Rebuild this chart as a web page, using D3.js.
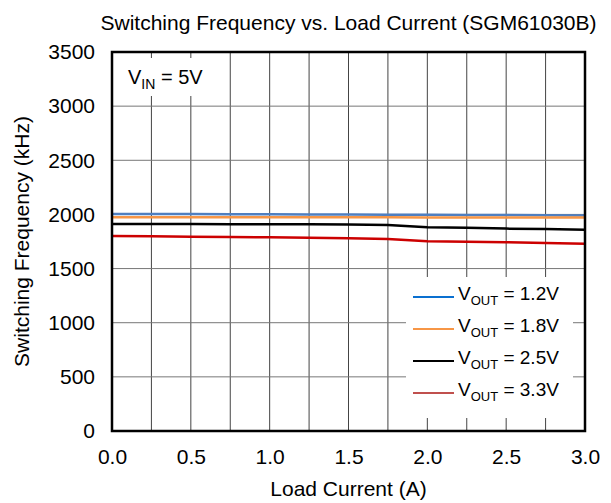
<!DOCTYPE html>
<html>
<head>
<meta charset="utf-8">
<script src="https://cdn.jsdelivr.net/npm/d3@7"></script>
<style>
  body { margin: 0; background: #fff; }
  text { font-family: "Liberation Sans", Arial, sans-serif; fill: #000; }
</style>
</head>
<body>
<div id="plotarea"></div>
<script>
// chart data
var loadCurrent = [0, 0.25, 0.5, 0.75, 1.0, 1.25, 1.5, 1.75, 2.0, 2.25, 2.5, 2.75, 3.0];
var vout12 = [2005, 2004, 2003, 2002, 2001, 2000, 1999, 1998, 1997, 1995, 1994, 1993, 1991];
var vout18 = [1974, 1974, 1974, 1973, 1973, 1973, 1973, 1973, 1972, 1972, 1972, 1972, 1972];
var vout25 = [1912, 1911, 1911, 1910, 1910, 1909, 1908, 1903, 1882, 1876, 1869, 1865, 1858];
var vout33 = [1801, 1798, 1795, 1792, 1789, 1785, 1780, 1772, 1753, 1748, 1743, 1736, 1730];
var seriesNames = ["1.2V", "1.8V", "2.5V", "3.3V"];
var xTicks = [0, 0.5, 1.0, 1.5, 2.0, 2.5, 3.0];
var yTicks = [0, 500, 1000, 1500, 2000, 2500, 3000, 3500];

var lineColors = ["#4f7fc0", "#f79646", "#000000", "#cc0000"];
var legendColors = ["#0a70d0", "#f79646", "#000000", "#c0504d"];

var margin = {top: 52, right: 26, bottom: 72, left: 112},
    width = 611 - margin.left - margin.right,
    height = 503 - margin.top - margin.bottom;

var svg = d3.select("#plotarea")
  .append("svg")
    .attr("width", 611)
    .attr("height", 503)
  .append("g")
    .attr("transform", "translate(" + margin.left + "," + margin.top + ")");

var x = d3.scaleLinear().domain([0, 3]).range([0, width]);
var y = d3.scaleLinear().domain([0, 3500]).range([height, 0]);

// grid
svg.append("g")
  .selectAll("line")
  .data(d3.range(0, 3.001, 0.25))
  .enter().append("line")
    .attr("x1", function(d) { return x(d); })
    .attr("x2", function(d) { return x(d); })
    .attr("y1", 0).attr("y2", height)
    .attr("stroke", "#444").attr("stroke-width", 1);

svg.append("g")
  .selectAll("line")
  .data(yTicks)
  .enter().append("line")
    .attr("x1", 0).attr("x2", width)
    .attr("y1", function(d) { return y(d); })
    .attr("y2", function(d) { return y(d); })
    .attr("stroke", "#777").attr("stroke-width", 1);

// axes labels (no tick marks)
var xAxis = svg.append("g")
  .attr("transform", "translate(0," + height + ")")
  .call(d3.axisBottom(x).tickValues(xTicks).tickSize(0).tickPadding(18).tickFormat(d3.format(".1f")));
var yAxis = svg.append("g")
  .call(d3.axisLeft(y).tickValues(yTicks).tickSize(0).tickPadding(17).tickFormat(d3.format("d")));
[xAxis, yAxis].forEach(function(a) {
  a.select(".domain").remove();
  a.selectAll("text").style("font-size", "21px").style("font-family", "Liberation Sans, Arial, sans-serif");
});

// V_IN label with white background
svg.append("rect")
  .attr("x", 5).attr("y", 6).attr("width", 90).attr("height", 38)
  .attr("fill", "#fff");
var vin = svg.append("text")
  .attr("x", 16).attr("y", 32)
  .style("font-size", "20px");
vin.append("tspan").text("V");
vin.append("tspan").attr("dy", 5).style("font-size", "14px").text("IN");
vin.append("tspan").attr("dy", -5).text(" = 5V");

// series lines
var series = [vout12, vout18, vout25, vout33];
var line = d3.line()
  .x(function(d, i) { return x(loadCurrent[i]); })
  .y(function(d) { return y(d); });

svg.append("g")
  .selectAll("path")
  .data(series)
  .enter().append("path")
    .attr("d", line)
    .attr("fill", "none")
    .attr("stroke", function(d, i) { return lineColors[i]; })
    .attr("stroke-width", 2.5);

// frame
svg.append("rect")
  .attr("x", 0).attr("y", 0).attr("width", width).attr("height", height)
  .attr("fill", "none").attr("stroke", "#000").attr("stroke-width", 2.5);

// legend
var legend = svg.append("g").attr("transform", "translate(294,225)");
legend.append("rect")
  .attr("x", 0).attr("y", 0).attr("width", 167).attr("height", 141)
  .attr("fill", "#fff");
var rows = legend.selectAll(".row")
  .data(seriesNames)
  .enter().append("g")
    .attr("class", "row")
    .attr("transform", function(d, i) { return "translate(0," + (16 + i * 32) + ")"; });
rows.append("line")
  .attr("x1", 7).attr("x2", 48)
  .attr("y1", 4).attr("y2", 4)
  .attr("stroke", function(d, i) { return legendColors[i]; })
  .attr("stroke-width", 2);
var lt = rows.append("text")
  .attr("x", 52).attr("y", 7)
  .style("font-size", "19px");
lt.append("tspan").text("V");
lt.append("tspan").attr("dy", 5).style("font-size", "13px").text("OUT");
lt.append("tspan").attr("dy", -5).text(function(d) { return " = " + d; });

// titles
svg.append("text")
  .attr("text-anchor", "middle")
  .attr("x", width / 2)
  .attr("y", -22)
  .style("font-size", "21px")
  .text("Switching Frequency vs. Load Current (SGM61030B)");

svg.append("text")
  .attr("text-anchor", "middle")
  .attr("x", width / 2)
  .attr("y", height + 65)
  .style("font-size", "21px")
  .text("Load Current (A)");

svg.append("text")
  .attr("text-anchor", "middle")
  .attr("transform", "rotate(-90)")
  .attr("x", -height / 2)
  .attr("y", -83)
  .style("font-size", "21px")
  .text("Switching Frequency (kHz)");
</script>
</body>
</html>
